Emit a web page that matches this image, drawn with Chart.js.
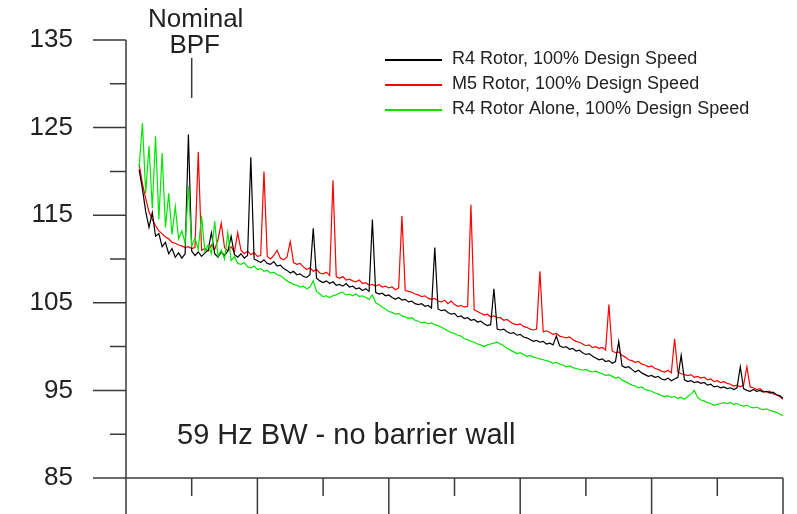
<!DOCTYPE html>
<html lang="en">
<head>
    <meta charset="UTF-8">
    <title>Rotor noise spectra</title>
    <script src="https://cdn.jsdelivr.net/npm/chart.js"></script>
    <style>
        body { margin: 0; background: #fff; }
        canvas { display: block; }
    </style>
</head>
<body>
<canvas id="spectrum" width="797" height="514"></canvas>

<script>
// frequency grid (arbitrary units, one unit per x tick)
const freqStart = 0.2;
const freqStep = 0.05;

const seriesLabels = [
    'R4 Rotor, 100% Design Speed',
    'M5 Rotor, 100% Design Speed',
    'R4 Rotor Alone, 100% Design Speed'
];

// SPL, dB
const r4Rotor = [
    120.2, 118.0, 115.4, 113.6, 115.3, 112.6, 112.9, 111.4, 111.9, 110.6,
    111.2, 110.2, 110.7, 110.1, 110.6, 124.2, 110.9, 110.4, 110.8, 110.3,
    110.7, 111.0, 113.0, 110.6, 110.2, 110.8, 110.4, 110.9, 112.6, 110.5,
    110.2, 110.6, 110.1, 110.4, 121.6, 110.0, 109.8, 109.6, 109.9, 109.5,
    109.4, 109.7, 109.2, 109.3, 108.9, 108.7, 108.4, 108.6, 108.2, 108.3,
    108.0, 107.9, 108.2, 113.5, 107.8, 107.5, 107.3, 107.5, 107.2, 107.4,
    107.0, 107.1, 106.9, 107.2, 106.8, 106.9, 106.6, 106.7, 106.4, 106.6,
    106.3, 114.5, 106.2, 106.0, 106.1, 105.8, 105.9, 105.6, 105.4, 105.6,
    105.3, 105.4, 105.1, 105.2, 104.9, 104.8, 104.9, 104.6, 104.7, 104.4,
    111.3, 104.3, 104.1, 104.2, 103.9, 103.7, 103.8, 103.4, 103.5, 103.2,
    103.3, 103.0, 103.1, 102.8, 102.9, 102.6, 102.4, 102.5, 106.6, 102.0,
    101.9, 102.0, 101.7, 101.5, 101.6, 101.3, 101.4, 101.1, 101.0, 100.8,
    100.6, 100.7, 100.5, 100.6, 100.3, 100.4, 100.2, 101.2, 100.1, 99.9,
    100.0, 99.7, 99.8, 99.5, 99.6, 99.3, 99.1, 99.2, 98.9, 98.7,
    98.5, 98.6, 98.3, 98.4, 98.1, 98.3, 100.6, 97.8, 97.6, 97.7,
    97.4, 97.1, 97.3, 97.0, 96.8, 96.6, 96.7, 96.5, 96.6, 96.3,
    96.2, 96.4, 96.1, 96.3, 96.5, 99.0, 96.2, 96.0, 96.1, 95.9,
    96.0, 95.8, 95.9, 95.6, 95.7, 95.4, 95.5, 95.3, 95.4, 95.2,
    95.3, 95.1, 95.3, 97.7, 95.2, 95.0, 94.9, 95.1, 94.9, 95.0,
    94.8, 94.9, 94.7, 94.8, 94.5, 94.4, 94.1
];

const m5Rotor = [
    120.8, 118.6, 116.9, 115.4, 114.5, 113.8, 113.2, 112.9, 112.5, 112.3,
    111.9, 111.8, 111.6, 111.5, 111.3, 111.4, 111.2, 111.3, 122.2, 111.0,
    111.2, 110.9, 111.6, 111.1, 112.2, 114.1, 111.3, 110.9, 111.4, 110.8,
    113.0, 111.0, 110.6, 110.9, 110.5, 110.7, 110.3, 110.4, 120.0, 110.3,
    110.0, 110.4, 111.0, 110.1, 109.9, 110.2, 112.0, 109.6, 109.4, 109.5,
    109.1, 108.8, 109.0, 108.6, 108.8, 108.4, 108.3, 108.5, 108.1, 119.0,
    108.0, 107.8, 108.0, 107.6, 107.7, 107.5, 107.4, 107.6, 107.2, 107.3,
    107.0, 107.1, 106.9, 107.1, 106.8, 106.9, 106.7, 106.8, 106.5, 106.7,
    114.9, 106.4, 106.3, 106.2, 106.0, 105.9, 105.7, 105.8, 105.5, 105.4,
    105.5, 105.2, 105.1, 105.3, 104.9, 105.2, 104.8, 104.6, 104.7, 104.5,
    104.6, 116.2, 104.2, 104.0, 103.8, 103.6, 103.7, 103.4, 103.5, 103.3,
    103.3, 103.0, 103.1, 102.8, 102.6, 102.5, 102.6, 102.3, 102.2, 102.0,
    101.9, 102.0, 108.6, 101.7, 101.8, 101.6, 101.4, 101.5, 101.2, 101.1,
    101.0, 101.1, 100.8, 100.6, 100.5, 100.3, 100.1, 100.2, 99.9, 100.0,
    99.8, 99.9, 99.6, 104.8, 99.5, 99.3, 99.4, 99.0, 98.8, 98.5,
    98.4, 98.2, 98.3, 98.0, 97.9, 97.7, 97.8, 97.5, 97.4, 97.2,
    97.1, 97.3, 97.0, 100.9, 97.1, 96.9, 96.8, 96.7, 96.8, 96.5,
    96.6, 96.4, 96.5, 96.2, 96.3, 96.0, 96.1, 95.9, 96.0, 95.8,
    95.7, 95.5, 95.6, 95.4, 95.6, 97.7, 95.4, 95.3, 95.1, 95.2,
    94.9, 94.8, 94.9, 94.6, 94.5, 94.3, 94.0
];

const r4Alone = [
    120.5, 125.5, 117.5, 122.9, 115.8, 124.0, 114.5, 122.1, 113.6, 117.5,
    112.8, 116.0, 112.3, 113.2, 111.8, 118.3, 111.5, 112.4, 111.1, 114.9,
    110.9, 111.6, 110.6, 114.3, 110.3, 111.0, 110.0, 113.0, 109.8, 110.3,
    109.5, 109.4, 109.6, 109.1, 109.0, 109.2, 108.8, 108.9, 108.6, 108.7,
    108.4, 108.5, 108.2, 108.1, 107.8, 107.5, 107.3, 107.1, 107.0, 106.8,
    106.9, 106.6, 106.8, 107.5, 106.3, 106.0, 105.7, 105.8, 105.6, 105.8,
    105.9, 106.1, 106.2, 105.9, 106.0, 105.8, 106.0, 105.7, 105.8, 105.6,
    105.4, 105.9, 105.0, 104.8, 104.5, 104.3, 104.0, 103.9, 103.7, 103.8,
    103.5, 103.4, 103.2, 103.3, 103.0, 102.9, 102.7, 102.8, 102.6, 102.7,
    102.5, 102.4, 102.2, 102.0, 101.8, 101.6, 101.5, 101.3, 101.2, 100.9,
    100.8, 100.6, 100.5, 100.3, 100.2, 100.0, 100.2, 100.3, 100.4, 100.5,
    100.3, 100.1, 99.8, 99.6, 99.4, 99.2, 99.3, 99.1, 98.9, 99.0,
    98.8, 98.7, 98.6, 98.5, 98.4, 98.3, 98.1, 98.2, 98.0, 97.9,
    97.7, 97.8, 97.6, 97.5, 97.4, 97.3, 97.4, 97.2, 97.1, 97.2,
    97.0, 96.9, 96.7, 96.8, 96.6, 96.4, 96.5, 96.2, 96.0, 95.8,
    95.6, 95.5, 95.3, 95.4, 95.1, 95.0, 94.9, 94.7, 94.6, 94.4,
    94.3, 94.4, 94.2, 94.3, 94.1, 94.2, 94.0, 94.3, 94.6, 95.0,
    94.2, 93.9, 93.8, 93.6, 93.5, 93.3, 93.4, 93.5, 93.6, 93.5,
    93.6, 93.4, 93.5, 93.3, 93.2, 93.3, 93.1, 93.0, 93.1, 92.9,
    92.8, 92.9, 92.7, 92.6, 92.5, 92.3, 92.1
];

const nominalBpf = 1.0;
const fontFamily = '"Liberation Sans", Arial, sans-serif';
const inkColor = '#222';
const axisColor = '#3a3a3a';

function toPoints(values) {
    return values.map((v, i) => ({ x: freqStart + i * freqStep, y: v }));
}

// axis lines with long/short tick marks, drawn under the curves
const axesPlugin = {
    id: 'axes',
    beforeDatasetsDraw(chart) {
        const { ctx, scales: { x, y } } = chart;
        const ax = x.getPixelForValue(x.min);
        const ay = y.getPixelForValue(y.min);
        const top = y.getPixelForValue(y.max);
        const right = x.getPixelForValue(x.max);
        ctx.save();
        ctx.strokeStyle = axisColor;
        ctx.lineWidth = 1.5;
        ctx.beginPath();
        ctx.moveTo(ax, top);
        ctx.lineTo(ax, ay);
        ctx.lineTo(right, ay);
        for (let v = y.min; v <= y.max; v += 5) {
            const py = y.getPixelForValue(v);
            const len = (v % 10 === 5) ? 33 : 16;
            ctx.moveTo(ax - len, py);
            ctx.lineTo(ax, py);
        }
        for (let f = x.min; f <= x.max; f += 1) {
            const px = x.getPixelForValue(f);
            const len = (f % 2 === 0) ? 36 : 18;
            ctx.moveTo(px, ay);
            ctx.lineTo(px, ay + len);
        }
        ctx.stroke();
        ctx.restore();
    }
};

// legend block and text notes
const notesPlugin = {
    id: 'notes',
    afterDraw(chart) {
        const { ctx, scales: { x } } = chart;
        ctx.save();
        ctx.fillStyle = inkColor;

        // legend
        ctx.font = '18px ' + fontFamily;
        ctx.textBaseline = 'middle';
        ctx.textAlign = 'left';
        chart.data.datasets.forEach((ds, i) => {
            const ly = 60 + i * 25;
            ctx.strokeStyle = ds.borderColor;
            ctx.lineWidth = 2;
            ctx.beginPath();
            ctx.moveTo(385, ly);
            ctx.lineTo(442, ly);
            ctx.stroke();
            ctx.fillText(ds.label, 452, ly - 1);
        });

        // nominal blade passing frequency marker
        const bx = x.getPixelForValue(nominalBpf);
        ctx.textAlign = 'center';
        ctx.textBaseline = 'alphabetic';
        ctx.font = '26px ' + fontFamily;
        ctx.fillText('Nominal', bx + 4, 27);
        ctx.fillText('BPF', bx + 3, 53);
        ctx.strokeStyle = axisColor;
        ctx.lineWidth = 1.5;
        ctx.beginPath();
        ctx.moveTo(bx, 58);
        ctx.lineTo(bx, 98);
        ctx.stroke();

        ctx.textAlign = 'left';
        ctx.font = '29px ' + fontFamily;
        ctx.fillText('59 Hz BW - no barrier wall', 177, 444);
        ctx.restore();
    }
};

const ctx = document.getElementById('spectrum').getContext('2d');
new Chart(ctx, {
    type: 'line',
    data: {
        datasets: [
            {
                label: seriesLabels[0],
                data: toPoints(r4Rotor),
                borderColor: '#000000',
                order: 1
            },
            {
                label: seriesLabels[1],
                data: toPoints(m5Rotor),
                borderColor: '#ff0000',
                order: 2
            },
            {
                label: seriesLabels[2],
                data: toPoints(r4Alone),
                borderColor: '#00e600',
                order: 0
            }
        ]
    },
    options: {
        responsive: false,
        animation: false,
        events: [],
        layout: { padding: { left: 0, top: 40, right: 14, bottom: 36 } },
        elements: {
            point: { radius: 0 },
            line: { tension: 0, borderWidth: 1.2, fill: false }
        },
        plugins: {
            legend: { display: false },
            tooltip: { enabled: false }
        },
        scales: {
            x: {
                type: 'linear',
                min: 0,
                max: 10,
                display: false
            },
            y: {
                min: 85,
                max: 135,
                // invisible tick marks only push the labels away from the axis
                grid: {
                    display: true,
                    drawOnChartArea: false,
                    drawTicks: true,
                    tickLength: 53,
                    color: 'transparent',
                    tickColor: 'transparent'
                },
                border: { display: false },
                ticks: {
                    stepSize: 5,
                    autoSkip: false,
                    padding: 0,
                    color: inkColor,
                    font: { family: fontFamily, size: 26 },
                    callback: v => (v % 10 === 5 ? v : '')
                },
                afterFit: scale => { scale.width = 126; }
            }
        }
    },
    plugins: [axesPlugin, notesPlugin]
});
</script>
</body>
</html>
